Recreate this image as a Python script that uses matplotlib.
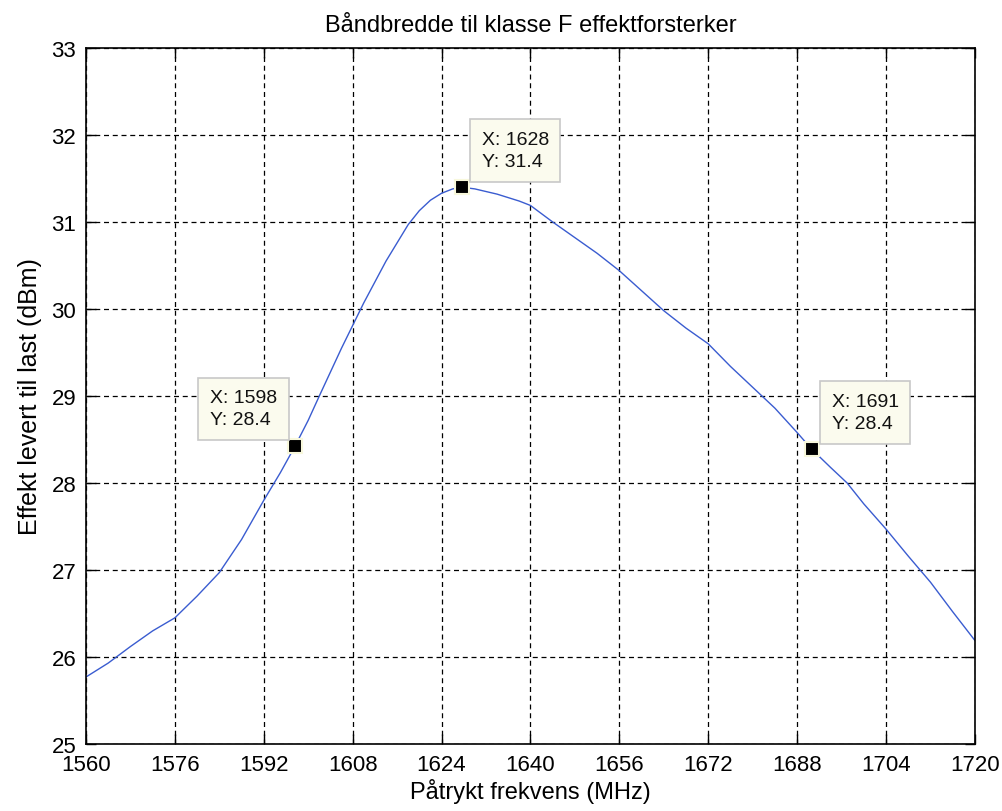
import matplotlib.pyplot as plt

# Frequency sweep (MHz) and delivered power (dBm)
freq = [1560, 1564, 1568, 1572, 1576, 1580, 1584, 1588, 1592, 1595,
        1597.6, 1600, 1602, 1606, 1610, 1614, 1618, 1620, 1622, 1624,
        1626, 1627.6, 1630, 1634, 1638, 1640, 1644, 1648, 1652, 1656,
        1660, 1664, 1668, 1672, 1676, 1680, 1684, 1688, 1690.6, 1694,
        1697, 1700, 1704, 1708, 1712, 1716, 1720]
power = [25.77, 25.93, 26.12, 26.30, 26.45, 26.70, 26.97, 27.35, 27.80, 28.12,
         28.42, 28.72, 29.00, 29.55, 30.07, 30.55, 30.97, 31.13, 31.25, 31.33,
         31.38, 31.40, 31.38, 31.32, 31.24, 31.19, 31.00, 30.82, 30.64, 30.44,
         30.21, 29.98, 29.78, 29.60, 29.34, 29.10, 28.86, 28.58, 28.39, 28.18,
         28.00, 27.76, 27.47, 27.16, 26.86, 26.52, 26.19]

# Data tips: x, y, label, text offset (pixels), alignment
tip_x = [1597.6, 1627.6, 1690.6]
tip_y = [28.42, 31.40, 28.39]
tip_labels = ["X: 1598\nY: 28.4", "X: 1628\nY: 31.4", "X: 1691\nY: 28.4"]
tip_offsets = [(-18, 18), (20, 17), (20, 17)]
tip_ha = ['right', 'left', 'left']

x_ticks = list(range(1560, 1721, 16))
y_ticks = list(range(25, 34))

plt.rcParams['font.family'] = ['Liberation Sans', 'DejaVu Sans']
fs = 16

fig = plt.figure(figsize=(10.03, 8.12), dpi=100)
ax = fig.add_axes([0.0857, 0.0825, 0.8863, 0.8572])

ax.plot(freq, power, color='#3a5cd0', linewidth=1.0)

for x, y, lab, off, ha in zip(tip_x, tip_y, tip_labels, tip_offsets, tip_ha):
    ax.plot(x, y, marker='s', markersize=10, color='black',
            markeredgecolor='#f8f8dc', markeredgewidth=1.5, zorder=5)
    ax.annotate(lab, xy=(x, y), xytext=off, textcoords='offset pixels',
                ha=ha, va='bottom', fontsize=14, linespacing=1.4,
                multialignment='left', color='#111111',
                bbox=dict(boxstyle='square,pad=0.6', facecolor='#fbfbee',
                          edgecolor='#c8c8c8', linewidth=1.2),
                zorder=6)

ax.set_xlim(1560, 1720)
ax.set_ylim(25, 33)
ax.set_xticks(x_ticks)
ax.set_yticks(y_ticks)
ax.tick_params(direction='in', length=7, width=1, top=True, right=True,
               labelsize=fs)
ax.tick_params(axis='x', pad=7)
ax.tick_params(axis='y', pad=7)
ax.grid(True, color='black', linestyle=(0, (4, 3)), linewidth=0.9)
for s in ax.spines.values():
    s.set_linewidth(1.2)

ax.set_title('Båndbredde til klasse F effektforsterker', fontsize=17, pad=12)
ax.set_xlabel('Påtrykt frekvens (MHz)', fontsize=17, labelpad=2)
ax.set_ylabel('Effekt levert til last (dBm)', fontsize=18, labelpad=7)

fig.savefig('out.png', dpi=100)
